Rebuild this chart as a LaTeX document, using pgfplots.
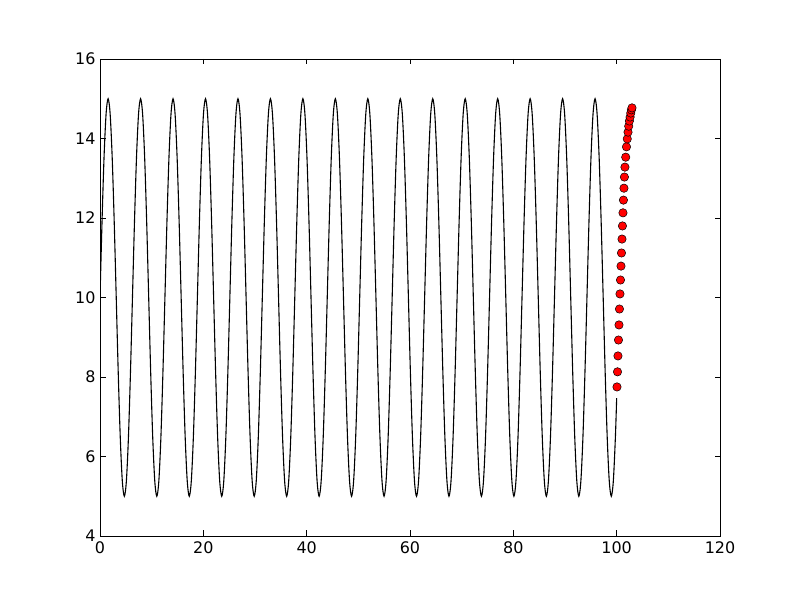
\documentclass[border=0pt]{standalone}
\usepackage{pgfplots}
\pgfplotsset{compat=1.18}
\usepackage{fontspec}
\setmainfont{DejaVu Sans}
\begin{document}
\begin{tikzpicture}
\useasboundingbox (-100bp,-60bp) rectangle (700bp,536bp);
\begin{axis}[
  at={(0,0)}, anchor=south west,
  width=620bp, height=477bp, scale only axis,
  xmin=0, xmax=120, ymin=4, ymax=16,
  xtick={0,20,40,60,80,100,120},
  ytick={4,6,8,10,12,14,16},
  tick align=inside,
  major tick length=5.5bp,
  axis line style={line width=0.9bp},
  every tick/.style={black, line width=0.7bp},
  tick label style={font=\fontsize{16}{18}\selectfont},
  /pgf/number format/assume math mode=true,
  xticklabel style={yshift=-2bp},
  yticklabel style={xshift=-1bp},
  clip=true,
]
\addplot[black, line width=1.1bp, mark=none, smooth, tension=0.5] coordinates {
(0,10) (0.393,11.913) (0.785,13.536) (1.178,14.619) (1.571,15) (1.963,14.619) (2.356,13.536) (2.749,11.913) (3.142,10) (3.534,8.087) (3.927,6.464) (4.320,5.381) (4.712,5) (5.105,5.381) (5.498,6.464) (5.890,8.087)
(6.283,10) (6.676,11.913) (7.068,13.536) (7.461,14.619) (7.854,15) (8.246,14.619) (8.639,13.536) (9.032,11.913) (9.425,10) (9.817,8.087) (10.210,6.464) (10.603,5.381) (10.995,5) (11.388,5.381) (11.781,6.464) (12.173,8.087)
(12.566,10) (12.959,11.913) (13.351,13.536) (13.744,14.619) (14.137,15) (14.529,14.619) (14.922,13.536) (15.315,11.913) (15.708,10) (16.100,8.087) (16.493,6.464) (16.886,5.381) (17.278,5) (17.671,5.381) (18.064,6.464) (18.456,8.087)
(18.850,10) (19.243,11.913) (19.635,13.536) (20.028,14.619) (20.421,15) (20.813,14.619) (21.206,13.536) (21.599,11.913) (21.992,10) (22.384,8.087) (22.777,6.464) (23.170,5.381) (23.562,5) (23.955,5.381) (24.348,6.464) (24.740,8.087)
(25.133,10) (25.526,11.913) (25.918,13.536) (26.311,14.619) (26.704,15) (27.096,14.619) (27.489,13.536) (27.882,11.913) (28.275,10) (28.667,8.087) (29.060,6.464) (29.453,5.381) (29.845,5) (30.238,5.381) (30.631,6.464) (31.023,8.087)
(31.416,10) (31.809,11.913) (32.201,13.536) (32.594,14.619) (32.987,15) (33.379,14.619) (33.772,13.536) (34.165,11.913) (34.558,10) (34.950,8.087) (35.343,6.464) (35.736,5.381) (36.128,5) (36.521,5.381) (36.914,6.464) (37.306,8.087)
(37.699,10) (38.092,11.913) (38.484,13.536) (38.877,14.619) (39.270,15) (39.662,14.619) (40.055,13.536) (40.448,11.913) (40.841,10) (41.233,8.087) (41.626,6.464) (42.019,5.381) (42.411,5) (42.804,5.381) (43.197,6.464) (43.589,8.087)
(43.982,10) (44.375,11.913) (44.767,13.536) (45.160,14.619) (45.553,15) (45.945,14.619) (46.338,13.536) (46.731,11.913) (47.124,10) (47.516,8.087) (47.909,6.464) (48.302,5.381) (48.694,5) (49.087,5.381) (49.480,6.464) (49.872,8.087)
(50.265,10) (50.658,11.913) (51.050,13.536) (51.443,14.619) (51.836,15) (52.228,14.619) (52.621,13.536) (53.014,11.913) (53.407,10) (53.799,8.087) (54.192,6.464) (54.585,5.381) (54.977,5) (55.370,5.381) (55.763,6.464) (56.155,8.087)
(56.549,10) (56.942,11.913) (57.334,13.536) (57.727,14.619) (58.120,15) (58.512,14.619) (58.905,13.536) (59.298,11.913) (59.691,10) (60.083,8.087) (60.476,6.464) (60.869,5.381) (61.261,5) (61.654,5.381) (62.047,6.464) (62.439,8.087)
(62.832,10) (63.225,11.913) (63.617,13.536) (64.010,14.619) (64.403,15) (64.795,14.619) (65.188,13.536) (65.581,11.913) (65.974,10) (66.366,8.087) (66.759,6.464) (67.152,5.381) (67.544,5) (67.937,5.381) (68.330,6.464) (68.722,8.087)
(69.115,10) (69.508,11.913) (69.900,13.536) (70.293,14.619) (70.686,15) (71.078,14.619) (71.471,13.536) (71.864,11.913) (72.257,10) (72.649,8.087) (73.042,6.464) (73.435,5.381) (73.827,5) (74.220,5.381) (74.613,6.464) (75.005,8.087)
(75.398,10) (75.791,11.913) (76.183,13.536) (76.576,14.619) (76.969,15) (77.361,14.619) (77.754,13.536) (78.147,11.913) (78.540,10) (78.932,8.087) (79.325,6.464) (79.718,5.381) (80.110,5) (80.503,5.381) (80.896,6.464) (81.288,8.087)
(81.681,10) (82.074,11.913) (82.466,13.536) (82.859,14.619) (83.252,15) (83.644,14.619) (84.037,13.536) (84.430,11.913) (84.823,10) (85.215,8.087) (85.608,6.464) (86.001,5.381) (86.393,5) (86.786,5.381) (87.179,6.464) (87.571,8.087)
(87.965,10) (88.358,11.913) (88.750,13.536) (89.143,14.619) (89.536,15) (89.928,14.619) (90.321,13.536) (90.714,11.913) (91.107,10) (91.499,8.087) (91.892,6.464) (92.285,5.381) (92.677,5) (93.070,5.381) (93.463,6.464) (93.855,8.087)
(94.248,10) (94.641,11.913) (95.033,13.536) (95.426,14.619) (95.819,15) (96.211,14.619) (96.604,13.536) (96.997,11.913) (97.390,10) (97.782,8.087) (98.175,6.464) (98.568,5.381) (98.960,5) (99.353,5.381) (99.746,6.464) (100.000,7.468)
};
\addplot[only marks, mark=*, mark size=4.2bp, mark options={fill=red, draw=black, line width=0.5bp}] coordinates {
(100.06,7.75) (100.16,8.13) (100.25,8.53) (100.35,8.93) (100.45,9.31) (100.54,9.71) (100.64,10.09) (100.74,10.44) (100.84,10.79) (100.93,11.12) (101.03,11.47) (101.12,11.80) (101.22,12.13) (101.31,12.45) (101.41,12.75) (101.50,13.03) (101.60,13.28) (101.75,13.53) (101.90,13.79) (102.05,13.99) (102.20,14.16) (102.33,14.31) (102.46,14.44) (102.60,14.54) (102.73,14.64) (102.85,14.72) (102.97,14.77)
};
\end{axis}
\end{tikzpicture}
\end{document}
